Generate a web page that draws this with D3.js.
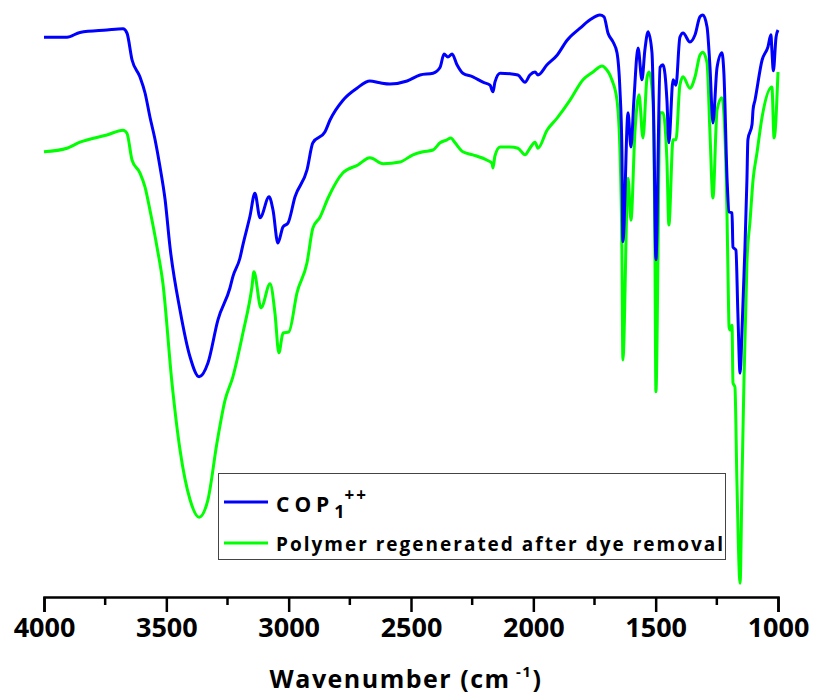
<!DOCTYPE html>
<html>
<head>
<meta charset="utf-8">
<script src="https://cdn.jsdelivr.net/npm/d3@7"></script>
<style>
  html, body { margin: 0; padding: 0; background: #fff; }
  svg { display: block; }
  text { font-family: "Open Sans", "DejaVu Sans", sans-serif; font-weight: 700; fill: #000; }
</style>
</head>
<body>
<svg id="chart" width="814" height="698"></svg>
<script>
// FTIR spectra: wavenumber (cm-1) and transmittance (a.u.)
const seriesNames = ["COP1++", "Polymer regenerated after dye removal"];
const seriesColors = ["#0000ff", "#00ff00"];

const cop1Wavenumber = [4000, 3906, 3853, 3743, 3677, 3661, 3640, 3608, 3587, 3567, 3546, 3526, 3505, 3485, 3444, 3403, 3366, 3330, 3289, 3240, 3228, 3199, 3187, 3158, 3138, 3117, 3080, 3064, 3044, 3023, 3003, 2974, 2925, 2901, 2852, 2831, 2778, 2721, 2668, 2627, 2586, 2516, 2463, 2410, 2381, 2365, 2349, 2332, 2312, 2288, 2247, 2206, 2177, 2165, 2157, 2136, 2095, 2063, 2034, 2014, 1993, 1981, 1944, 1903, 1862, 1809, 1768, 1728, 1711, 1695, 1674, 1658, 1646, 1638, 1634, 1613, 1601, 1589, 1572, 1556, 1544, 1531, 1515, 1507, 1499, 1482, 1470, 1454, 1446, 1429, 1417, 1401, 1388, 1360, 1339, 1319, 1307, 1290, 1278, 1266, 1249, 1229, 1221, 1208, 1200, 1188, 1184, 1172, 1164, 1155, 1147, 1135, 1127, 1123, 1106, 1102, 1094, 1065, 1041, 1029, 1025, 1019, 1008, 1000];
const cop1Transmittance = [93.3, 93.3, 94.1, 94.5, 94.7, 94.0, 89.5, 86.7, 84.0, 80.0, 76.2, 71.7, 66.2, 58.3, 47.8, 40.0, 36.7, 39.0, 46.2, 51.5, 53.4, 56.5, 58.7, 63.5, 67.3, 63.2, 66.7, 64.5, 59.0, 61.7, 62.3, 66.7, 71.2, 75.7, 77.5, 79.5, 82.8, 84.8, 86.0, 85.7, 85.5, 86.0, 87.0, 87.3, 88.3, 90.5, 90.0, 90.5, 88.7, 87.3, 86.7, 85.8, 85.3, 84.2, 85.8, 87.3, 87.2, 87.0, 85.8, 87.0, 87.5, 87.0, 88.7, 90.3, 92.8, 94.8, 96.2, 97.0, 96.7, 94.0, 92.5, 90.7, 84.5, 74.5, 59.2, 80.7, 75.0, 82.8, 91.5, 86.2, 91.2, 94.2, 90.7, 77.3, 56.2, 88.3, 88.7, 82.8, 75.7, 86.2, 85.3, 93.3, 94.0, 92.5, 93.7, 96.7, 97.0, 95.0, 88.3, 79.0, 88.3, 90.7, 87.2, 69.5, 64.2, 64.0, 58.3, 57.8, 47.3, 37.3, 44.5, 58.3, 69.5, 76.2, 78.8, 81.2, 82.8, 89.5, 91.7, 93.7, 91.2, 87.7, 93.3, 94.5];

const regenWavenumber = [4000, 3906, 3853, 3743, 3677, 3661, 3640, 3608, 3587, 3567, 3538, 3514, 3477, 3444, 3403, 3366, 3330, 3293, 3260, 3228, 3187, 3150, 3142, 3113, 3076, 3056, 3040, 3023, 2999, 2966, 2925, 2901, 2872, 2839, 2778, 2717, 2668, 2614, 2545, 2492, 2451, 2410, 2381, 2353, 2337, 2320, 2288, 2247, 2189, 2169, 2165, 2157, 2136, 2095, 2063, 2034, 2014, 1993, 1981, 1944, 1903, 1850, 1797, 1756, 1719, 1707, 1679, 1658, 1646, 1638, 1634, 1613, 1601, 1585, 1568, 1552, 1535, 1527, 1511, 1503, 1499, 1482, 1470, 1454, 1446, 1429, 1417, 1401, 1388, 1360, 1339, 1319, 1307, 1290, 1278, 1266, 1249, 1229, 1217, 1208, 1204, 1200, 1196, 1188, 1184, 1176, 1168, 1155, 1147, 1139, 1127, 1114, 1102, 1086, 1065, 1025, 1016, 1000];
const regenTransmittance = [74.2, 74.8, 75.8, 77.0, 77.8, 77.3, 72.8, 70.7, 68.3, 64.5, 58.3, 52.3, 35.7, 24.5, 16.2, 13.3, 16.2, 25.7, 32.8, 36.7, 44.0, 51.7, 54.2, 48.2, 52.2, 47.3, 40.7, 44.0, 44.2, 50.7, 55.7, 61.5, 63.3, 66.5, 70.7, 72.0, 73.2, 72.2, 72.5, 73.7, 74.2, 74.5, 75.7, 76.2, 76.5, 75.7, 74.2, 73.7, 72.8, 72.3, 71.5, 73.5, 75.0, 75.0, 74.8, 73.7, 74.8, 75.8, 74.8, 77.8, 79.8, 82.8, 86.2, 87.5, 88.5, 88.2, 86.2, 82.8, 74.5, 57.8, 39.5, 69.8, 62.8, 77.3, 83.7, 76.5, 86.7, 87.5, 82.8, 57.8, 34.2, 80.7, 80.7, 72.8, 62.0, 76.2, 76.2, 85.3, 86.7, 84.8, 86.7, 90.3, 90.8, 89.0, 77.3, 66.5, 81.2, 83.2, 77.0, 62.8, 53.0, 45.0, 44.5, 45.3, 35.7, 35.0, 19.5, 2.3, 19.5, 36.2, 55.7, 62.8, 69.5, 74.0, 80.0, 85.0, 76.5, 87.5];

const xTickValues = [4000, 3500, 3000, 2500, 2000, 1500, 1000];
const xMinorTickValues = [3750, 3250, 2750, 2250, 1750, 1250];

const svg = d3.select("#chart");

const x = d3.scaleLinear().domain([4000, 1000]).range([44, 778]);
const y = d3.scaleLinear().domain([0, 100]).range([597, -3]);

// keep wavenumbers in descending order so the path runs left to right
function toPoints(wn, tr) {
  return wn.map((w, i) => ({ w, t: tr[i] })).sort((a, b) => b.w - a.w);
}
const series = [
  toPoints(cop1Wavenumber, cop1Transmittance),
  toPoints(regenWavenumber, regenTransmittance)
];

const line = d3.line()
  .x(d => x(d.w))
  .y(d => y(d.t))
  .curve(d3.curveMonotoneX);

// draw the regenerated polymer first, COP on top
[1, 0].forEach(i => {
  svg.append("path")
    .datum(series[i])
    .attr("fill", "none")
    .attr("stroke", seriesColors[i])
    .attr("stroke-width", 3)
    .attr("stroke-linejoin", "round")
    .attr("d", line);
});

// bottom axis
const axisG = svg.append("g").attr("transform", "translate(0,597)");
axisG.call(d3.axisBottom(x).tickValues(xTickValues).tickSize(15).tickPadding(6).tickFormat(d3.format("d")));
axisG.select(".domain").attr("stroke", "#000").attr("stroke-width", 2.5);
axisG.selectAll(".tick line").attr("stroke", "#000").attr("stroke-width", 2.5);
axisG.selectAll(".tick text")
  .attr("font-family", "'Open Sans', sans-serif")
  .attr("font-weight", 700)
  .attr("font-size", 27)
  .attr("fill", "#000");
axisG.selectAll(".minor")
  .data(xMinorTickValues)
  .enter().append("line")
  .attr("x1", d => x(d)).attr("x2", d => x(d))
  .attr("y1", 0).attr("y2", 8)
  .attr("stroke", "#000").attr("stroke-width", 2.5);

// axis title
const title = svg.append("text")
  .attr("x", 406).attr("y", 688)
  .attr("text-anchor", "middle")
  .attr("font-size", 25)
  .attr("letter-spacing", "1.5px");
title.append("tspan").text("Wavenumber (cm");
title.append("tspan").attr("font-size", 15).attr("dy", -11).text(" -1");
title.append("tspan").attr("dy", 11).text(")");

// legend
const legend = svg.append("g");
legend.append("rect")
  .attr("x", 218.5).attr("y", 473.5)
  .attr("width", 507).attr("height", 86)
  .attr("fill", "#fff")
  .attr("stroke", "#444").attr("stroke-width", 1);

const legendRows = [502, 543];
legendRows.forEach((ly, i) => {
  legend.append("line")
    .attr("x1", 224).attr("x2", 268)
    .attr("y1", ly).attr("y2", ly)
    .attr("stroke", seriesColors[i]).attr("stroke-width", 3);
});

const copLabel = legend.append("text")
  .attr("x", 276).attr("y", 512)
  .attr("font-size", 21);
copLabel.append("tspan").attr("letter-spacing", "5px").text("COP");
copLabel.append("tspan").attr("font-size", 18).attr("dy", 6).text("1");
copLabel.append("tspan").attr("font-size", 17).attr("dy", -17).attr("letter-spacing", "2px").text("++");

legend.append("text")
  .attr("x", 276).attr("y", 551)
  .attr("font-size", 19)
  .attr("letter-spacing", "2px")
  .text(seriesNames[1]);
</script>
</body>
</html>
